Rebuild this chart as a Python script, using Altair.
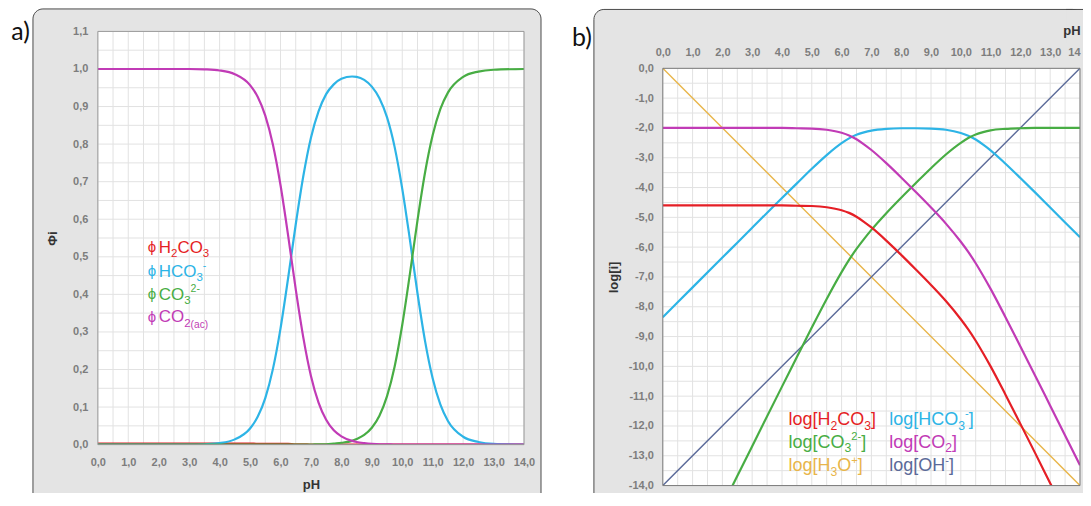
import altair as alt
import pandas as pd

# ---------------- data: panel a (fractions) ----------------
pH_a = [0, 1, 2, 3, 3.5, 4, 4.5, 5, 5.25, 5.5,
        5.75, 6, 6.25, 6.5, 6.75, 7, 7.25, 7.5, 7.75, 8,
        8.35, 8.5, 8.75, 9, 9.25, 9.5, 9.75, 10, 10.25, 10.5,
        10.75, 11, 11.25, 11.5, 12, 12.5, 13, 14]
phi_H2CO3 = [0.003, 0.003, 0.003, 0.003, 0.003, 0.003, 0.003, 0.003, 0.002, 0.002,
             0.002, 0.002, 0.002, 0.001, 0.001, 0.000, 0, 0, 0, 0,
             0, 0, 0, 0, 0, 0, 0, 0, 0, 0,
             0, 0, 0, 0, 0, 0, 0, 0]
phi_HCO3 = [0.000, 0.000, 0.000, 0.000, 0.001, 0.004, 0.014, 0.043, 0.074, 0.124,
            0.201, 0.309, 0.443, 0.586, 0.715, 0.817, 0.887, 0.933, 0.959, 0.974,
            0.980, 0.979, 0.971, 0.953, 0.922, 0.871, 0.792, 0.681, 0.546, 0.403,
            0.275, 0.176, 0.107, 0.063, 0.021, 0.007, 0.002, 0.000]
phi_CO3 = [0, 0, 0, 0, 0, 0, 0, 0, 0, 0,
           0, 0, 0, 0.000, 0.000, 0.000, 0.001, 0.001, 0.003, 0.005,
           0.010, 0.015, 0.026, 0.045, 0.077, 0.129, 0.208, 0.319, 0.454, 0.597,
           0.725, 0.824, 0.893, 0.937, 0.979, 0.993, 0.998, 1.000]
phi_CO2 = [1.000, 1.000, 1.000, 1.000, 0.999, 0.996, 0.986, 0.957, 0.926, 0.876,
           0.799, 0.691, 0.557, 0.414, 0.285, 0.183, 0.112, 0.066, 0.038, 0.022,
           0.010, 0.007, 0.004, 0.002, 0.001, 0.001, 0.000, 0.000, 0.000, 0.000,
           0, 0, 0, 0, 0, 0, 0, 0]

# ---------------- data: panel b (log concentrations) ----------------
pH_b = [0, 1, 2, 2.5, 3, 4, 4.5, 5, 5.5, 6,
        6.25, 6.5, 6.75, 7, 7.5, 8, 8.5, 9, 9.5, 10,
        10.25, 10.5, 10.75, 11, 11.5, 12, 12.5, 13, 13.5, 14]
log_H2CO3 = [-4.60, -4.60, -4.60, -4.60, -4.60, -4.60, -4.61, -4.62, -4.66, -4.76,
             -4.85, -4.98, -5.15, -5.34, -5.78, -6.26, -6.76, -7.27, -7.81, -8.42,
             -8.76, -9.14, -9.56, -10.00, -10.95, -11.93, -12.92, -13.92, -14.92, -15.92]
log_HCO3 = [-8.35, -7.35, -6.35, -5.85, -5.35, -4.35, -3.86, -3.37, -2.91, -2.51,
            -2.35, -2.23, -2.15, -2.09, -2.03, -2.01, -2.01, -2.02, -2.06, -2.17,
            -2.26, -2.39, -2.56, -2.75, -3.20, -3.68, -4.17, -4.67, -5.17, -5.67]
log_CO3 = [-18.68, -16.68, -14.68, -13.68, -12.68, -10.68, -9.69, -8.70, -7.74, -6.84,
           -6.43, -6.06, -5.73, -5.42, -4.86, -4.34, -3.84, -3.35, -2.89, -2.50,
           -2.34, -2.22, -2.14, -2.08, -2.03, -2.01, -2.00, -2.00, -2.00, -2.00]
log_CO2 = [-2.00, -2.00, -2.00, -2.00, -2.00, -2.00, -2.01, -2.02, -2.06, -2.16,
           -2.25, -2.38, -2.55, -2.74, -3.18, -3.66, -4.16, -4.67, -5.21, -5.82,
           -6.16, -6.54, -6.96, -7.40, -8.35, -9.33, -10.32, -11.32, -12.32, -13.32]
pH_water = [0, 14]
log_H3O = [0, -14]
log_OH = [-14, 0]

# ---------------- text (n = normal, sub = subscript, sup = superscript) ----------------
legend_a = [
    [("H", "n"), ("2", "sub"), ("CO", "n"), ("3", "sub")],
    [("HCO", "n"), ("3", "sub"), ("-", "sup")],
    [("CO", "n"), ("3", "sub"), ("2-", "sup")],
    [("CO", "n"), ("2", "sub"), (" (ac)", "sub2")],
]
legend_b = [
    [("log[H", "n"), ("2", "sub"), ("CO", "n"), ("3", "sub"), ("]", "n")],
    [("log[HCO", "n"), ("3", "sub"), ("-", "sup"), ("]", "n")],
    [("log[CO", "n"), ("3", "sub"), ("2-", "sup"), ("]", "n")],
    [("log[CO", "n"), ("2", "sub"), ("]", "n")],
    [("log[H", "n"), ("3", "sub"), ("O", "n"), ("+", "sup"), ("]", "n")],
    [("log[OH", "n"), ("-", "sup"), ("]", "n")],
]
phi_symbol = "ϕ"
xticks = list(range(15))
yticks_a = [0.0, 0.1, 0.2, 0.3, 0.4, 0.5, 0.6, 0.7, 0.8, 0.9, 1.0, 1.1]
yticks_b = [0, -1, -2, -3, -4, -5, -6, -7, -8, -9, -10, -11, -12, -13, -14]

COL = {"H2CO3": "#e51f26", "HCO3": "#2db4e6", "CO3": "#48ad44", "CO2": "#c13bb6",
       "H3O": "#e8b54a", "OH": "#5b6a99"}

FONT = "Liberation Sans"
WA, HA = 427, 414
WB, HB = 418, 418
OFFB = 37          # panel b plot area starts 37px lower than panel a
RB = 421           # right edge of panel b's frame
LBL = "replace(replace(format(datum.value, '.1f'), '.', ','), '\u2212', '-')"
BOXFILL = "#e4e4e4"
BOXLINE = "#4a4a4a"
GRID = "#e2e2e2"

# Arial / Liberation Sans advance widths (per 1000 em)
AW = {"l": 222, "o": 556, "g": 556, "[": 278, "]": 278, "H": 722, "C": 722, "O": 778,
      "2": 556, "3": 556, "-": 333, "+": 584, " ": 278, "(": 333, ")": 333, "a": 556, "c": 500}

one = alt.Data(values=[{}])


def deco_rect(x, x2, y, y2, **kw):
    return alt.Chart(one).mark_rect(**kw).encode(
        x=alt.value(x), x2=alt.value(x2), y=alt.value(y), y2=alt.value(y2))


def text_at(txt, x, y, **kw):
    return alt.Chart(one).mark_text(text=txt, **kw).encode(x=alt.value(x), y=alt.value(y))


def rich(parts, x, yc, size, color):
    out = []
    cx = x
    base = yc + 0.36 * size
    for txt, kind in parts:
        if kind == "n":
            fs, dy = size, 0
        elif kind == "sub":
            fs, dy = size * 0.68, 0.27 * size
        elif kind == "sub2":
            fs, dy = size * 0.6, 0.3 * size
        else:
            fs, dy = size * 0.62, -0.42 * size
        out.append(text_at(txt, cx, base + dy, align="left", baseline="alphabetic",
                           font=FONT, fontSize=fs, color=color))
        cx += sum(AW.get(ch, 556) for ch in txt) * fs / 1000
    return out


axis_common = dict(grid=False, ticks=False, tickSize=0, domain=False, zindex=2,
                   labelFont=FONT, labelFontSize=11, labelFontWeight="bold",
                   labelColor="#7d7d7d", labelOverlap=False, labelFlush=False,
                   titleFont=FONT, titleFontSize=13, titleFontWeight="bold", titleColor="#333333")

# ================= panel a =================
xs_a = alt.Scale(domain=[0, 14], nice=False, zero=False)
ys_a = alt.Scale(domain=[0, 1.1], nice=False, zero=False)
grid_pH = [i * 0.5 for i in range(29)]
grid_phi = [round(i * 0.05, 2) for i in range(23)]

ax_xa = alt.Axis(values=xticks, title="pH", labelPadding=12, titleY=39.5, labelExpr=LBL,
                 titleBaseline="middle", **axis_common)
ax_ya = alt.Axis(values=yticks_a, title="Φi", labelPadding=10, titleX=-45, titleY=HA / 2,
                 labelExpr=LBL, titleBaseline="middle", titleAlign="center", **axis_common)

box_a = deco_rect(-65, 444, -22.5, 477.5, fill=BOXFILL, stroke=BOXLINE, strokeWidth=1, cornerRadius=10)
ext_a = deco_rect(-90, -89, 0, 1, opacity=0)
white_a = deco_rect(0, WA, 0, HA, fill="white")
vgrid_a = alt.Chart(pd.DataFrame({"g": grid_pH})).mark_rule(color=GRID, strokeWidth=1).encode(
    x=alt.X("g:Q", scale=xs_a, axis=ax_xa), y=alt.value(0), y2=alt.value(HA))
hgrid_a = alt.Chart(pd.DataFrame({"g": grid_phi})).mark_rule(color=GRID, strokeWidth=1).encode(
    y=alt.Y("g:Q", scale=ys_a, axis=ax_ya), x=alt.value(0), x2=alt.value(WA))

df_a = pd.DataFrame({"pH": pH_a, "H2CO3": phi_H2CO3, "HCO3": phi_HCO3,
                     "CO3": phi_CO3, "CO2": phi_CO2})
curves_a = []
for name in ["H2CO3", "HCO3", "CO3", "CO2"]:
    curves_a.append(alt.Chart(df_a).mark_line(color=COL[name], strokeWidth=2.2,
                                              interpolate="monotone", clip=True).encode(
        x=alt.X("pH:Q", scale=xs_a, axis=ax_xa),
        y=alt.Y(f"{name}:Q", scale=ys_a, axis=ax_ya)))
border_a = deco_rect(0, WA, 0, HA, fillOpacity=0, stroke="#9a9a9a", strokeWidth=1)

leg_a = []
rows_a = [215.5, 239.5, 262.5, 285.5]
for parts, yy, name in zip(legend_a, rows_a, ["H2CO3", "HCO3", "CO3", "CO2"]):
    leg_a.append(text_at(phi_symbol, 50, yy + 1, align="left", baseline="middle", font=FONT,
                         fontSize=15, color=COL[name]))
    leg_a += rich(parts, 61, yy, 17, COL[name])
label_a = text_at("a)", -68, 0.5, align="right", baseline="middle", font="Lato",
                  fontSize=25, color="#111111")

panel_a = alt.layer(box_a, ext_a, white_a, vgrid_a, hgrid_a, *curves_a, border_a,
                    *leg_a, label_a).properties(width=WA, height=HA)

# ================= panel b =================
xs_b = alt.Scale(domain=[0, 14], nice=False, zero=False)
ys_b = alt.Scale(domain=[-14, 0], nice=False, zero=False, range=[OFFB + HB, OFFB])
grid_log = [-i * 0.5 for i in range(29)]

LBL_B = "datum.value == 14 ? '14' : " + LBL
ax_xb = alt.Axis(orient="top", values=xticks, title="pH", labelPadding=11, offset=-OFFB,
                 labelExpr=LBL_B, labelAlign={"expr": "datum.value == 14 ? 'right' : 'center'"},
                 titleX=WB, titleY=-38, titleAlign="right", titleBaseline="middle", **axis_common)
ax_yb = alt.Axis(values=yticks_b, title="log[i]", labelPadding=9.5, titleX=-49, labelExpr=LBL,
                 titleY=OFFB + HB / 2, titleBaseline="middle", titleAlign="center", **axis_common)

box_b = deco_rect(-69, RB - 0.5, -22, 477.5, fill=BOXFILL, stroke=BOXLINE, strokeWidth=1, cornerRadius=10)
patch_b1 = deco_rect(RB - 17, RB, -21.5, 12, fill=BOXFILL)
patch_b2 = deco_rect(RB - 1.5, RB, -21.5, 478, fill=BOXFILL)
topline_b = deco_rect(RB - 17, RB, -22.5, -21.5, fill=BOXLINE)
ext_b = deco_rect(-100, -99, 100, 101, opacity=0)
white_b = deco_rect(0, WB, OFFB, OFFB + HB, fill="white")
vgrid_b = alt.Chart(pd.DataFrame({"g": grid_pH})).mark_rule(color=GRID, strokeWidth=1).encode(
    x=alt.X("g:Q", scale=xs_b, axis=ax_xb), y=alt.value(OFFB), y2=alt.value(OFFB + HB))
hgrid_b = alt.Chart(pd.DataFrame({"g": grid_log})).mark_rule(color=GRID, strokeWidth=1).encode(
    y=alt.Y("g:Q", scale=ys_b, axis=ax_yb), x=alt.value(0), x2=alt.value(WB))

df_b = pd.DataFrame({"pH": pH_b, "H2CO3": log_H2CO3, "HCO3": log_HCO3,
                     "CO3": log_CO3, "CO2": log_CO2})
df_w = pd.DataFrame({"pH": pH_water, "H3O": log_H3O, "OH": log_OH})

curves_b = []
for name in ["H3O", "OH"]:
    curves_b.append(alt.Chart(df_w).mark_line(color=COL[name], strokeWidth=1.4, clip=True).encode(
        x=alt.X("pH:Q", scale=xs_b, axis=ax_xb),
        y=alt.Y(f"{name}:Q", scale=ys_b, axis=ax_yb)))
for name in ["HCO3", "CO3", "CO2", "H2CO3"]:
    curves_b.append(alt.Chart(df_b).mark_line(color=COL[name], strokeWidth=2.2,
                                              interpolate="monotone", clip=True).encode(
        x=alt.X("pH:Q", scale=xs_b, axis=ax_xb),
        y=alt.Y(f"{name}:Q", scale=ys_b, axis=ax_yb)))
border_b = deco_rect(0, WB, OFFB, OFFB + HB, fillOpacity=0, stroke="#7a7a7a", strokeWidth=1)

leg_b = []
pos_b = [(126, 350.5), (227, 350.5), (126, 373.5), (227, 373.5), (126, 397), (227, 397)]
for parts, (xx, yy), name in zip(legend_b, pos_b, ["H2CO3", "HCO3", "CO3", "CO2", "H3O", "OH"]):
    leg_b += rich(parts, xx, yy + OFFB, 18, COL[name])
label_b = text_at("b)", -71, -30 + OFFB, align="right", baseline="middle", font="Lato",
                  fontSize=25, color="#111111")

panel_b = alt.layer(box_b, patch_b1, patch_b2, topline_b, ext_b, white_b, vgrid_b, hgrid_b,
                    *curves_b, border_b, *leg_b, label_b).properties(width=WB, height=OFFB + HB)

chart = alt.hconcat(panel_a, panel_b, spacing=21).properties(
    padding={"left": 0, "top": 0, "right": 0, "bottom": -16},
    background="white"
).configure_view(stroke=None)

chart.save("out.html", embed_options={"renderer": "svg", "actions": False})
